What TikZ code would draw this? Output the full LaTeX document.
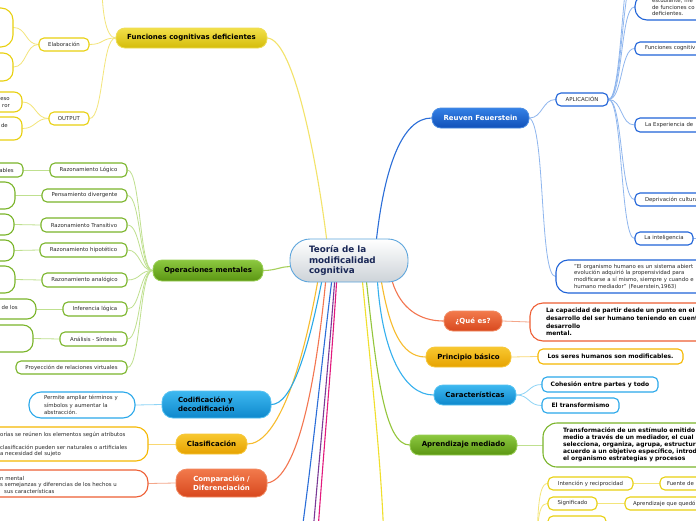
\documentclass[tikz,border=0pt]{standalone}
\usepackage{fontspec}
\setmainfont{DejaVu Sans}
\pgfdeclarelayer{back}
\pgfdeclarelayer{bg}
\pgfsetlayers{back,bg,main}
% pill top / bottom / outline, box border, connector
\definecolor{ylT}{HTML}{F2E04A}\definecolor{ylB}{HTML}{D4BC0A}\definecolor{ylL}{HTML}{EEDD55}\definecolor{ylD}{HTML}{E8D010}\definecolor{ylC}{HTML}{F3E57A}
\definecolor{grT}{HTML}{8CC840}\definecolor{grB}{HTML}{5B9612}\definecolor{grL}{HTML}{9ACF55}\definecolor{grD}{HTML}{7AB52A}\definecolor{grC}{HTML}{BFE08F}
\definecolor{blT}{HTML}{3DB8F0}\definecolor{blB}{HTML}{0E88CC}\definecolor{blL}{HTML}{55C2F2}\definecolor{blD}{HTML}{2AA8EA}\definecolor{blC}{HTML}{8ED4F6}
\definecolor{orT}{HTML}{F8C830}\definecolor{orB}{HTML}{E6A200}\definecolor{orL}{HTML}{F7C73A}\definecolor{orD}{HTML}{F5B800}\definecolor{orC}{HTML}{F9D872}
\definecolor{rdT}{HTML}{F27A4C}\definecolor{rdB}{HTML}{D8481E}\definecolor{rdL}{HTML}{F28A62}\definecolor{rdD}{HTML}{EE5E34}\definecolor{rdC}{HTML}{F4A689}
\definecolor{dbT}{HTML}{3581E6}\definecolor{dbB}{HTML}{1050B8}\definecolor{dbL}{HTML}{4A8CE2}\definecolor{dbD}{HTML}{1F63D8}\definecolor{dbC}{HTML}{8FB6EE}
\definecolor{cenD}{HTML}{5DA5DC}\definecolor{cenB}{HTML}{CDD3D8}
\definecolor{navy}{HTML}{1A2857}\definecolor{txtgray}{HTML}{2A2A2A}
\definecolor{mYl}{HTML}{F3E36A}\definecolor{mDb}{HTML}{2B6ED8}\definecolor{mGr}{HTML}{A6D05C}
\definecolor{mOr}{HTML}{F7BC2E}\definecolor{mBl}{HTML}{2BA9E7}\definecolor{mRd}{HTML}{F37650}
\definecolor{mPu}{HTML}{7B3A96}\definecolor{mMg}{HTML}{E2197D}\definecolor{mYlb}{HTML}{F0DF2C}
\definecolor{mGrb}{HTML}{94C63C}\definecolor{mBlb}{HTML}{35B0EE}
\begin{document}
\begin{tikzpicture}[x=1pt,y=-1pt,
  sz/.style 2 args={minimum width=#1pt, minimum height=#2pt},
  small/.style={font=\fontsize{5.4}{6.5}\selectfont, text=txtgray},
  boldtxt/.style={font=\bfseries\fontsize{6}{7.6}\selectfont, text=black},
  pill/.style={rounded corners=9pt, draw=#1L, line width=0.8pt, top color=#1T, bottom color=#1B, inner sep=0pt, font=\bfseries\fontsize{7}{9}\selectfont, text=black},
  wbox/.style={rounded corners=5pt, draw=#1D, line width=1.1pt, fill=white, inner sep=0pt, small},
  conn/.style={line width=0.8pt, draw=#1, line cap=round},
  mainconn/.style={line width=1.1pt, draw=#1, line cap=round},
  frag/.style={small, inner sep=0pt},
  cen/.style={draw=cenD, line width=0.9pt, rounded corners=20pt, top color=white, bottom color=cenB,
    minimum width=118pt, minimum height=43pt, inner xsep=19pt, inner ysep=0pt, text width=80pt,
    align=left, font=\bfseries\fontsize{8.8}{10.5}\selectfont, text=navy}
]
\useasboundingbox (0,0) rectangle (696,520);
\clip (0,0) rectangle (696,520);
\begin{pgfonlayer}{back}
\fill[white] (0,0) rectangle (696,520);
\end{pgfonlayer}

% central
\node[cen] (c) at (349,260.5) {Teoría de la\\modificalidad\\cognitiva};

% ---- yellow: Funciones cognitivas deficientes
\node[pill=yl, sz={151}{20}] (fcd) at (191.5,38) {Funciones cognitivas deficientes};
\node[wbox=yl, sz={50}{13}] (el) at (64,44.5) {Elaboración};
\node[wbox=yl, sz={40}{13}] (out) at (69,118.5) {OUTPUT};
\node[wbox=yl, rounded corners=12pt, sz={53}{39}] (e1) at (-13.5,27.5) {};
\node[wbox=yl, rounded corners=10pt, sz={53}{28}] (e2) at (-13.5,67) {};
\node[wbox=yl, rounded corners=8pt, sz={62}{20}] (o1) at (-9,102) {};
\node[wbox=yl, rounded corners=8pt, sz={62}{23}] (o2) at (-9,128.5) {};
\node[frag, anchor=east, align=right] (o1t) at (10,102.5) {ueso\\ror};
\node[frag, anchor=east] (o2t) at (8,125) {de};
\coordinate (fcup) at (102,-15);

% ---- green: Operaciones mentales
\node[pill=gr, sz={110}{21}] (om) at (208,270.5) {Operaciones mentales};
\node[wbox=gr, sz={77}{14}] (rl) at (88.5,170) {Razonamiento Lógico};
\node[wbox=gr, sz={85}{13}] (pd) at (84.5,195.5) {Pensamiento divergente};
\node[wbox=gr, sz={86}{14}] (rt) at (84,225) {Razonamiento Transitivo};
\node[wbox=gr, sz={87}{14}] (rh) at (83.5,250) {Razonamiento hipotético};
\node[wbox=gr, sz={85}{14}] (ra) at (84.5,280) {Razonamiento analógico};
\node[wbox=gr, sz={64}{14}] (il) at (95,309) {Inferencia lógica};
\node[wbox=gr, sz={67}{14}] (as) at (93.5,339) {Análisis - Síntesis};
\node[wbox=gr, sz={111}{13}] (pr) at (71.5,367.5) {Proyección de relaciones virtuales};
\node[wbox=gr, sz={53}{14}] (g1) at (-3.5,170) {};
\node[wbox=gr, rounded corners=10pt, sz={55}{27}] (g2) at (-12.5,195.5) {};
\node[wbox=gr, rounded corners=9pt, sz={54}{21}] (g3) at (-13,224.5) {};
\node[wbox=gr, rounded corners=9pt, sz={54}{21}] (g4) at (-13,250.5) {};
\node[wbox=gr, rounded corners=10pt, sz={55}{27}] (g5) at (-12.5,279.5) {};
\node[wbox=gr, rounded corners=9pt, sz={76}{20}] (g6) at (-2,309) {};
\node[wbox=gr, rounded corners=10pt, sz={73}{27}] (g7) at (-3.5,338.5) {};
\node[frag, anchor=east] (g1t) at (14,170) {ables};
\node[frag, anchor=east] (g6t) at (18,307) {de los};

% ---- Codificación
\node[pill=bl, rounded corners=11pt, sz={109}{27}, inner xsep=16pt, text width=77pt, align=left] (cd) at (216.5,404.5) {Codificación y\\decodificación};
\node[wbox=bl, rounded corners=12pt, sz={106}{26}, inner xsep=15pt, text width=76pt, align=left, font=\fontsize{5.4}{7.5}\selectfont] (pm) at (82,405) {Permite ampliar términos y\\símbolos y aumentar la\\abstracción.};

% ---- Clasificación
\node[pill=or, sz={71}{20}] (cl) at (211.5,444) {Clasificación};
\node[wbox=or, rounded corners=12pt, sz={208}{34}] (clc) at (44,444) {};
\node[frag, anchor=west, align=left] (clct) at (0,444.5) {orías se reúnen los elementos según atributos\\[6.5pt]clasificación pueden ser naturales o artificiales\\a necesidad del sujeto};

% ---- Comparación
\node[pill=rd, rounded corners=11pt, sz={91}{28}, align=center, text=white] (cp) at (221.5,483) {Comparación /\\Diferenciación};
\node[wbox=rd, rounded corners=12pt, sz={208}{27}] (cpc) at (44,483.5) {};
\node[frag, anchor=west, align=left] (cpct) at (0,484.5) {n mental\\s semejanzas y diferencias de los hechos u\\\hspace*{4pt}sus características};

% ---- Reuven Feuerstein
\node[pill=db, sz={97}{20}, text=white] (rf) at (480.5,118) {Reuven Feuerstein};
\node[wbox=db, sz={52}{13}] (ap) at (582,99.5) {APLICACIÓN};
\node[wbox=db, rounded corners=12pt, sz={125}{26}, inner xsep=17pt, text width=91pt, align=left, font=\fontsize{5.4}{6.3}\selectfont] (a1) at (697.5,7) {estudiante, me\\de funciones co\\deficientes.};
\node[wbox=db, sz={125}{13}, inner xsep=10pt, text width=105pt, align=left] (a2) at (697.5,48.5) {Funciones cognitiv};
\node[wbox=db, sz={125}{14}, inner xsep=10pt, text width=105pt, align=left] (a3) at (697.5,125) {La Experiencia de};
\node[wbox=db, sz={125}{13}, inner xsep=10pt, text width=105pt, align=left] (a4) at (697.5,199.5) {Deprivación cultura};
\node[wbox=db, sz={58}{13}] (a5) at (664,238.5) {La inteligencia};
\node[wbox=db, rounded corners=12pt, sz={204}{33}, inner xsep=18pt, text width=168pt, align=left, font=\fontsize{5.4}{6.7}\selectfont] (q) at (658,276.5) {"El organismo humano es un sistema abiert\\evolución adquirió la propensividad para\\modificarse a sí mismo, siempre y cuando e\\humano mediador" (Feuerstein,1963)};
\coordinate (apup1) at (636,-30);
\coordinate (apup2) at (636,-55);
\coordinate (a5r) at (712,238.5);

% ---- right side
\node[pill=rd, sz={58}{20}, text=white] (qe) at (473,321) {¿Qué es?};
\node[wbox=rd, rounded corners=13pt, sz={230}{38}, inner xsep=16pt, text width=198pt, align=left, boldtxt, font=\bfseries\fontsize{6}{7.7}\selectfont] (qc) at (645,322) {La capacidad de partir desde un punto en el\\desarrollo del ser humano teniendo en cuent\\desarrollo\\mental.};
\node[pill=or, sz={85}{20}] (pb) at (468.5,357) {Principio básico};
\node[wbox=or, sz={145}{15}, boldtxt] (pbc) at (610.5,356.5) {Los seres humanos son modificables.};
\node[pill=bl, sz={82}{20}] (ca) at (475,395) {Características};
\node[wbox=bl, sz={116}{15}, boldtxt] (co) at (600,384.5) {Cohesión entre partes y todo};
\node[wbox=bl, sz={77}{15}, boldtxt] (tr) at (580.5,405.5) {El transformismo};
\node[pill=gr, sz={107}{20}] (am) at (463.5,445) {Aprendizaje mediado};
\node[wbox=gr, rounded corners=14pt, sz={217}{44}, inner xsep=20pt, text width=177pt, align=left, boldtxt, font=\bfseries\fontsize{6}{7}\selectfont] (amc) at (651.5,445) {Transformación de un estímulo emitido\\medio a través de un mediador, el cual l\\selecciona, organiza, agrupa, estructura\\acuerdo a un objetivo específico, introd\\el organismo estrategias y procesos};

% ---- bottom right yellow
\node[wbox=yl, sz={85}{13}] (ir) at (590.5,483.5) {Intención y reciprocidad};
\node[wbox=yl, sz={100}{13}, inner xsep=7pt, text width=86pt, align=left] (fu) at (710,483.5) {Fuente de};
\node[wbox=yl, sz={49}{13}] (sg) at (572.5,503.5) {Significado};
\node[wbox=yl, sz={135}{13}, inner xsep=8pt, text width=119pt, align=left] (aq) at (692.5,503.5) {Aprendizaje que quedó};
\node[wbox=yl, sz={58}{14}] (b3) at (577,523) {};
\coordinate (yp) at (536,575);

% bottom free ends
\coordinate (dbdown) at (300,545);
\coordinate (pudown) at (312,545);
\coordinate (mgdown) at (317,545);
\coordinate (yldown) at (384,545);

\begin{pgfonlayer}{bg}
% central connectors
\draw[mainconn=mYl] (fcd.east) .. controls (295,40) and (318,170) .. ([xshift=37pt]c.north west);
\draw[mainconn=mDb] ([xshift=87pt]c.north west) .. controls +(8,-70) and +(-30,0) .. (rf.west);
\draw[mainconn=mGr] (om.east) .. controls +(12,0) and +(-8,0) .. ([yshift=-6pt]c.west);
\draw[mainconn=mOr] ([xshift=28pt]c.south west) .. controls (300,380) and (275,444) .. (cl.east);
\draw[mainconn=mBl] ([xshift=32pt]c.south west) .. controls (308,350) and (292,404.5) .. (cd.east);
\draw[mainconn=mRd] ([xshift=36pt]c.south west) .. controls (316,380) and (298,478) .. (cp.east);
\draw[mainconn=mDb] ([xshift=42pt]c.south west) .. controls (322,360) and (312,460) .. (dbdown);
\draw[mainconn=mPu] ([xshift=45pt]c.south west) .. controls (328,370) and (318,470) .. (pudown);
\draw[mainconn=mMg] ([xshift=47pt]c.south west) .. controls (331,370) and (322,470) .. (mgdown);
\draw[mainconn=mYlb] ([xshift=73pt]c.south west) .. controls (372,380) and (382,470) .. (yldown);
\draw[mainconn=mGrb] ([xshift=77pt]c.south west) .. controls +(10,90) and +(-25,0) .. (am.west);
\draw[mainconn=mBlb] ([xshift=88pt]c.south west) .. controls +(5,70) and +(-30,0) .. (ca.west);
\draw[mainconn=mOr] ([xshift=92pt]c.south west) .. controls +(8,45) and +(-25,0) .. (pb.west);
\draw[mainconn=mRd] ([xshift=103pt]c.south west) .. controls +(8,25) and +(-25,0) .. (qe.west);

% yellow branch
\draw[conn=ylC] (fcd.west) .. controls +(-14,0) and +(14,0) .. (el.east);
\draw[conn=ylC] (fcd.west) .. controls +(-14,0) and +(14,0) .. (out.east);
\draw[conn=ylC] (fcd.west) .. controls +(-10,0) and +(0,25) .. (fcup);
\draw[conn=ylC] (el.west) .. controls +(-13,0) and +(13,0) .. (e1.east);
\draw[conn=ylC] (el.west) .. controls +(-13,0) and +(13,0) .. (e2.east);
\draw[conn=ylC] (out.west) .. controls +(-13,0) and +(13,0) .. (o1.east);
\draw[conn=ylC] (out.west) .. controls +(-13,0) and +(13,0) .. (o2.east);

% green branch
\foreach \n in {rl,pd,rt,rh,ra,il,as,pr}
  \draw[conn=grC] (om.west) .. controls +(-13,0) and +(13,0) .. (\n.east);
\draw[conn=grC] (rl.west) -- (g1.east);
\draw[conn=grC] (pd.west) -- (g2.east);
\draw[conn=grC] (rt.west) -- (g3.east);
\draw[conn=grC] (rh.west) -- (g4.east);
\draw[conn=grC] (ra.west) -- (g5.east);
\draw[conn=grC] (il.west) -- (g6.east);
\draw[conn=grC] (as.west) -- (g7.east);

% left small
\draw[conn=blC] (cd.west) -- (pm.east);
\draw[conn=orC] (cl.west) -- (clc.east);
\draw[conn=rdC] (cp.west) -- (cpc.east);

% Reuven
\draw[conn=dbC] (rf.east) .. controls +(13,0) and +(-13,0) .. (ap.west);
\draw[conn=dbC] (rf.east) .. controls +(16,8) and +(-16,0) .. (q.west);
\foreach \n in {a1,a2,a3,a4,a5}
  \draw[conn=dbC] (ap.east) .. controls +(14,0) and +(-14,0) .. (\n.west);
\draw[conn=dbC] (ap.east) .. controls +(14,0) and +(-14,0) .. (apup1);
\draw[conn=dbC] (ap.east) .. controls +(14,0) and +(-14,0) .. (apup2);
\draw[conn=dbC] (a5.east) -- (a5r);

% right
\draw[conn=rdC] (qe.east) -- (qc.west);
\draw[conn=orC] (pb.east) -- (pbc.west);
\draw[conn=blC] (ca.east) .. controls +(13,0) and +(-13,0) .. (co.west);
\draw[conn=blC] (ca.east) .. controls +(13,0) and +(-13,0) .. (tr.west);
\draw[conn=grC] (am.east) -- (amc.west);

% bottom right yellow
\draw[conn=ylC] (yp) .. controls (538,530) and (536,483.5) .. (ir.west);
\draw[conn=ylC] (yp) .. controls (538,530) and (536,503.5) .. (sg.west);
\draw[conn=ylC] (yp) .. controls (538,540) and (536,523) .. (b3.west);
\draw[conn=ylC] (ir.east) -- (fu.west);
\draw[conn=ylC] (sg.east) -- (aq.west);
\end{pgfonlayer}
\end{tikzpicture}
\end{document}
